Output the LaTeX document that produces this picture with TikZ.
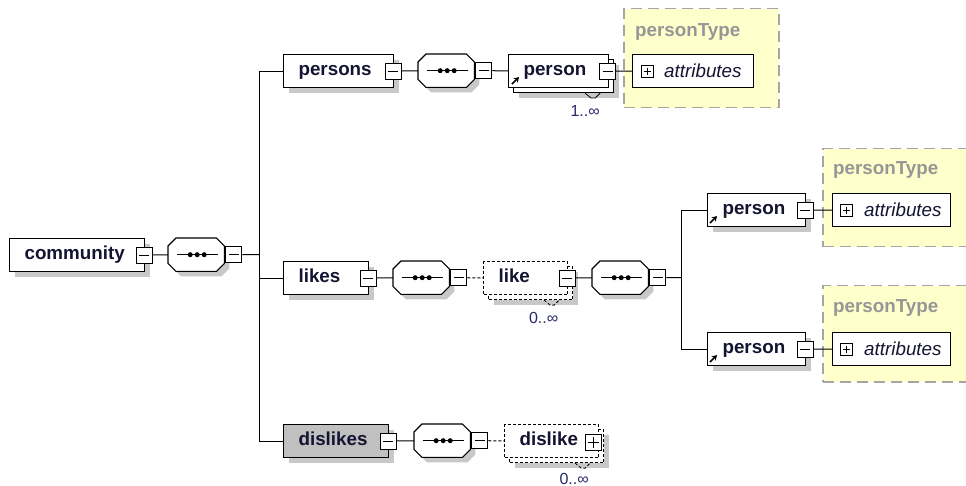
\documentclass[tikz,border=0pt]{standalone}
\usepackage{fontspec}
\setmainfont{Liberation Sans}
\usetikzlibrary{shadows,arrows.meta,calc}

\definecolor{ink}{RGB}{20,20,50}
\definecolor{shadowgray}{RGB}{200,200,200}
\definecolor{typefill}{RGB}{255,255,204}
\definecolor{typeedge}{RGB}{165,165,165}
\definecolor{typetext}{RGB}{150,150,150}
\definecolor{occtext}{RGB}{40,40,110}
\definecolor{graybox}{RGB}{192,192,192}

\tikzset{
  namefont/.style={font=\fontsize{18.8}{22}\selectfont\bfseries},
  elem/.style={namefont, draw=black, line width=1.1pt, fill=white, anchor=north west,
    minimum height=33pt, inner xsep=15pt, inner ysep=0pt, text width=#1, align=left,
    text height=13.5pt, text depth=4pt, text=ink},
  optional/.style={dash pattern=on 3pt off 2pt},
  shade/.style={drop shadow={shadow xshift=5pt, shadow yshift=-5pt, fill=shadowgray, opacity=1}},
  seq/.style={anchor=north west, minimum width=56pt, minimum height=33pt, inner sep=0pt},
  sqbase/.style={draw=black, fill=white, line width=1pt, minimum size=16pt, inner sep=0pt},
  minus/.style={sqbase, path picture={
      \draw[line width=1pt] ([xshift=3pt]path picture bounding box.west) -- ([xshift=-3pt]path picture bounding box.east);}},
  plus/.style={sqbase, path picture={
      \draw[line width=1pt] ([xshift=2.5pt]path picture bounding box.west) -- ([xshift=-2.5pt]path picture bounding box.east);
      \draw[line width=1pt] ([yshift=-2.5pt]path picture bounding box.north) -- ([yshift=2.5pt]path picture bounding box.south);}},
  conn/.style={line width=1pt, draw=black},
  typebox/.style={draw=typeedge, fill=typefill, line width=1.5pt, dash pattern=on 11pt off 6pt,
    anchor=north west, inner sep=0pt},
  typelabel/.style={namefont, text=typetext, anchor=west, inner sep=0pt},
  attrbox/.style={draw=black, fill=white, line width=1.3pt, anchor=north west,
    minimum height=33pt, inner sep=0pt},
  attrtext/.style={font=\fontsize{18.8}{22}\selectfont\itshape, text=ink, anchor=west, inner sep=0pt},
  occ/.style={font=\fontsize{16}{18}\selectfont, text=occtext, inner sep=0pt},
  refarrow/.style={-{Stealth[length=5pt,width=6pt]}, line width=1.6pt},
}

% octagon of a sequence compositor, drawn round an invisible node
\newcommand\seqshape[1]{%
  \fill[shadowgray] let \p1=(#1.north west), \p2=(#1.south east) in
    (\x1+13pt,\y1-5pt) -- (\x2-3pt,\y1-5pt) -- (\x2+5pt,\y1-13pt) -- (\x2+5pt,\y2+3pt)
    -- (\x2-3pt,\y2-5pt) -- (\x1+13pt,\y2-5pt) -- (\x1+5pt,\y2+3pt) -- (\x1+5pt,\y1-13pt) -- cycle;
  \filldraw[fill=white, draw=black, line width=1.1pt] let \p1=(#1.north west), \p2=(#1.south east) in
    (\x1+8pt,\y1) -- (\x2-8pt,\y1) -- (\x2,\y1-8pt) -- (\x2,\y2+8pt)
    -- (\x2-8pt,\y2) -- (\x1+8pt,\y2) -- (\x1,\y2+8pt) -- (\x1,\y1-8pt) -- cycle;
  \draw[line width=1.1pt] ([xshift=9pt]#1.west) -- ([xshift=-6pt]#1.east);
  \foreach \d in {-6,1,8} \fill ([xshift=\d pt]#1.center) circle (2.5pt);
}

% small occurrence notch below a repeated element
\newcommand\occnotch[2][]{%
  \draw[line width=0.8pt,#1] ([xshift=-29pt]#2.south east) -- ++(6pt,-5pt) -- ++(4pt,0pt) -- ++(5pt,5pt);
}

\begin{document}
\begin{tikzpicture}[x=1pt,y=-1pt]
\useasboundingbox (0,0) rectangle (966,486);
\fill[white] (0,0) rectangle (966,486);

% ---------- root ----------
\node[elem=105pt, shade] (comm) at (9,238) {community};
\node[minus] (commm) at ([xshift=-1pt]comm.east) {};
\node[seq] (seq1) at (168,238) {};
\seqshape{seq1}
\node[minus, anchor=west] (seq1m) at ([xshift=1pt]seq1.east) {};
\draw[conn] (commm) -- (seq1);
\coordinate (trunk1) at (259,254.5);

% ---------- persons ----------
\node[elem=80pt, shade] (persons) at (283,54) {persons};
\node[minus] (personsm) at ([xshift=-1pt]persons.east) {};
\node[seq] (seq2) at (418,54) {};
\seqshape{seq2}
\node[minus, anchor=west] (seq2m) at ([xshift=1pt]seq2.east) {};
\draw[conn] (personsm) -- (seq2);

\node[elem=70pt, shade] (p1back) at (513,59) {};
\node[elem=70pt] (p1) at (508,54) {person};
\draw[refarrow] ([shift={(4pt,4pt)}]p1.south west) -- ++(7pt,7pt);
\node[minus] (p1m) at ([xshift=-1.5pt]p1.east) {};
\draw[conn] (seq2m) -- (p1);
\occnotch{p1back}
\node[occ] (p1occ) at ([shift={(-29pt,-18pt)}]p1back.south east) {1..∞};

\node[typebox, minimum width=155pt, minimum height=99pt] (pt1) at (623,8) {};
\node[typelabel] (pt1t) at ([shift={(12pt,-24pt)}]pt1.north west) {personType};
\node[attrbox, minimum width=121pt] (attr1) at (632,54) {};
\node[plus, minimum size=12pt] (attr1p) at ([xshift=15pt]attr1.west) {};
\node[attrtext] (attr1t) at ([xshift=32pt]attr1.west) {attributes};
\draw[conn] (p1m) -- (attr1);

% ---------- likes ----------
\node[elem=55pt, shade] (likes) at (283,261) {likes};
\node[minus] (likesm) at ([xshift=-1pt]likes.east) {};
\node[seq] (seq3) at (393,261) {};
\seqshape{seq3}
\node[minus, anchor=west] (seq3m) at ([xshift=1pt]seq3.east) {};
\draw[conn] (likesm) -- (seq3);

\node[elem=54pt, optional, shade] (likeback) at (488,266) {};
\node[elem=54pt, optional] (like) at (483,261) {like};
\node[minus] (likem) at ([xshift=-1pt]like.east) {};
\draw[conn, optional] (seq3m) -- (like);
\occnotch[optional]{likeback}
\node[occ] (likeocc) at ([shift={(-29.5pt,-18pt)}]likeback.south east) {0..∞};

\node[seq] (seq4) at (592,261) {};
\seqshape{seq4}
\node[minus, anchor=west] (seq4m) at ([xshift=1pt]seq4.east) {};
\draw[conn] (likem) -- (seq4);
\coordinate (trunk2) at (681,277.5);
\draw[conn] (seq4m) -- (trunk2);

% upper person
\node[typebox, minimum width=160pt, minimum height=98pt] (pt2) at (822,148) {};
\node[typelabel] (pt2t) at ([shift={(11pt,-22pt)}]pt2.north west) {personType};
\node[elem=68pt, shade] (p2) at (707,193) {person};
\draw[refarrow] ([shift={(3pt,4pt)}]p2.south west) -- ++(7pt,7pt);
\node[minus] (p2m) at ([xshift=-1pt]p2.east) {};
\node[attrbox, minimum width=118pt] (attr2) at (832,193) {};
\node[plus, minimum size=12pt] (attr2p) at ([xshift=14pt]attr2.west) {};
\node[attrtext] (attr2t) at ([xshift=32pt]attr2.west) {attributes};
\draw[conn] (p2m) -- (attr2);

% lower person
\node[typebox, minimum width=160pt, minimum height=96pt] (pt3) at (822,285) {};
\node[typelabel] (pt3t) at ([shift={(11pt,-23pt)}]pt3.north west) {personType};
\node[elem=68pt, shade] (p3) at (707,332) {person};
\draw[refarrow] ([shift={(3pt,4pt)}]p3.south west) -- ++(7pt,7pt);
\node[minus] (p3m) at ([xshift=-1pt]p3.east) {};
\node[attrbox, minimum width=118pt] (attr3) at (832,332) {};
\node[plus, minimum size=12pt] (attr3p) at ([xshift=14pt]attr3.west) {};
\node[attrtext] (attr3t) at ([xshift=32pt]attr3.west) {attributes};
\draw[conn] (p3m) -- (attr3);

\draw[conn] (trunk2) |- (p2.west);
\draw[conn] (trunk2) |- (p3.west);

% ---------- dislikes ----------
\node[elem=75pt, fill=graybox, shade] (dislikes) at (283,424) {dislikes};
\node[minus] (dislikesm) at ([xshift=-1pt]dislikes.east) {};
\node[seq] (seq5) at (414,424) {};
\seqshape{seq5}
\node[minus, anchor=west] (seq5m) at ([xshift=1pt]seq5.east) {};
\draw[conn] (dislikesm) -- (seq5);

\node[elem=64pt, optional, shade] (dislikeback) at (509,429) {};
\node[elem=64pt, optional] (dislike) at (504,424) {dislike};
\node[plus] (dislikep) at ([shift={(-6pt,-1.5pt)}]dislike.east) {};
\draw[conn, optional] (seq5m) -- (dislike);
\occnotch[optional]{dislikeback}
\node[occ] (dislikeocc) at ([shift={(-30pt,-16pt)}]dislikeback.south east) {0..∞};

% ---------- trunk of the root sequence ----------
\draw[conn] (seq1m.east) -- (trunk1);
\draw[conn] (trunk1) |- (persons.west);
\draw[conn] (trunk1) |- (likes.west);
\draw[conn] (trunk1) |- (dislikes.west);
\end{tikzpicture}
\end{document}
